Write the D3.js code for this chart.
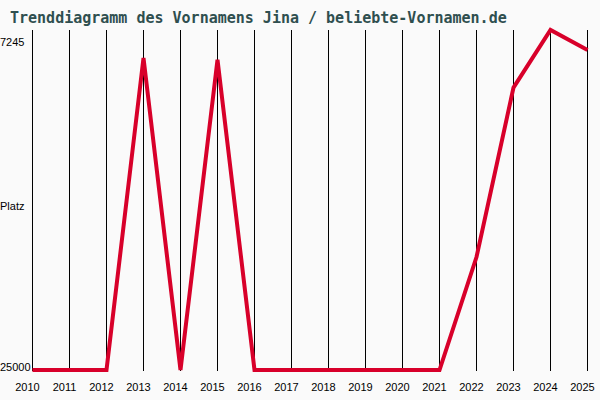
<!DOCTYPE html>
<html>
<head>
  <meta charset="utf-8">
  <style>
    body { margin: 0; background: #fafafa; }
    svg { display: block; }
  </style>
</head>
<body>
  <script src="https://cdn.jsdelivr.net/npm/d3@7"></script>
  <script>
    // Jahre und Platzierungen (Rang, kleiner = beliebter)
    var years = [2010, 2011, 2012, 2013, 2014, 2015, 2016, 2017, 2018, 2019, 2020, 2021, 2022, 2023, 2024, 2025]
    var ranks = [25000, 25000, 25000, 8700, 25000, 8800, 25000, 25000, 25000, 25000, 25000, 25000, 19100, 10250, 7245, 8290]
    var yTicks = [7245, 25000]

    var width = 600, height = 400
    var svg = d3.select("body").append("svg")
      .attr("width", width)
      .attr("height", height)

    svg.append("rect").attr("width", width).attr("height", height).attr("fill", "#fafafa")

    var x = d3.scaleLinear().domain([2010, 2025]).range([32.5, 587.5])
    var y = d3.scaleLinear().domain([7245, 25000]).range([30, 370])

    // Titel
    svg.append("text")
      .text("Trenddiagramm des Vornamens Jina / beliebte-Vornamen.de")
      .attr("x", 10)
      .attr("y", 23)
      .attr("font-family", "DejaVu Sans Mono, monospace")
      .attr("font-size", "15px")
      .attr("font-weight", "bold")
      .attr("fill", "#2f4f4f")

    // senkrechte Linien pro Jahr
    svg.append("g").selectAll("line")
      .data(years)
      .enter()
      .append("line")
      .attr("x1", d => x(d))
      .attr("x2", d => x(d))
      .attr("y1", 30)
      .attr("y2", 371)
      .attr("stroke", "#000")
      .attr("stroke-width", 1)
      .attr("shape-rendering", "crispEdges")

    // Jahreszahlen
    svg.append("g").selectAll("text")
      .data(years)
      .enter()
      .append("text")
      .text(d => d)
      .attr("x", d => x(d) - 5)
      .attr("y", 391)
      .attr("text-anchor", "middle")
      .attr("font-family", "Liberation Sans, Arial, sans-serif")
      .attr("font-size", "11px")
      .attr("fill", "#000")

    // y-Beschriftung
    svg.append("text").text(yTicks[0])
      .attr("x", 0).attr("y", y(yTicks[0]) + 16)
      .attr("font-family", "Liberation Sans, Arial, sans-serif")
      .attr("font-size", "11px")
    svg.append("text").text(yTicks[1])
      .attr("x", 0).attr("y", y(yTicks[1]) + 1)
      .attr("font-family", "Liberation Sans, Arial, sans-serif")
      .attr("font-size", "11px")
    svg.append("text").text("Platz")
      .attr("x", 0).attr("y", 210)
      .attr("font-family", "Liberation Sans, Arial, sans-serif")
      .attr("font-size", "11px")

    // Verlauf
    var line = d3.line()
      .x((d, i) => x(years[i]))
      .y(d => y(d))

    svg.append("path")
      .datum(ranks)
      .attr("d", line)
      .attr("fill", "none")
      .attr("stroke", "#d8002a")
      .attr("stroke-width", 4)
      .attr("stroke-linejoin", "miter")
  </script>
</body>
</html>
